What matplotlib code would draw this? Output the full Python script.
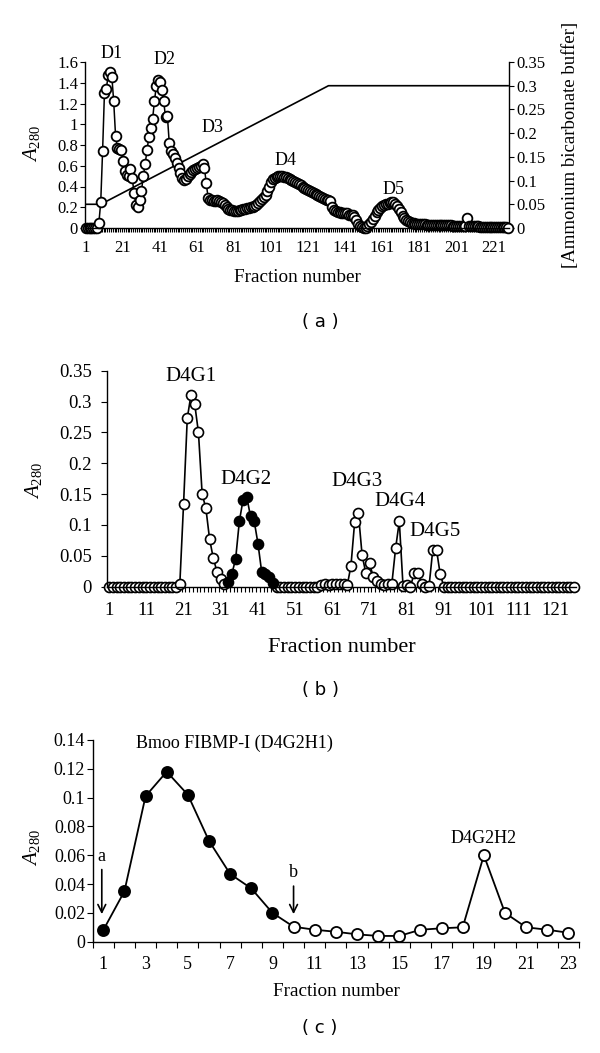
import matplotlib
matplotlib.use("Agg")
import matplotlib.pyplot as plt
import numpy as np
from matplotlib.ticker import FuncFormatter

plt.rcParams['font.family'] = ['Liberation Serif', 'DejaVu Serif']
plt.rcParams['mathtext.fontset'] = 'custom'
plt.rcParams['mathtext.rm'] = 'Liberation Serif'
plt.rcParams['mathtext.it'] = 'Liberation Serif:italic'

# ---- panel (a): gel filtration, 229 fractions ----
a_abs = [
    0, 0, 0, 0, 0, 0, 0, 0.05, 0.25, 0.74,
    1.30, 1.34, 1.47, 1.50, 1.46, 1.22, 0.89, 0.77, 0.76, 0.75,
    0.65, 0.55, 0.51, 0.50, 0.57, 0.48, 0.34, 0.22, 0.20, 0.27,
    0.36, 0.50, 0.62, 0.75, 0.88, 0.96, 1.05, 1.22, 1.37, 1.43,
    1.41, 1.33, 1.22, 1.07, 1.08, 0.82, 0.74, 0.71, 0.67, 0.63,
    0.58, 0.53, 0.48, 0.46, 0.47, 0.50, 0.52, 0.54, 0.56, 0.57,
    0.58, 0.59, 0.60, 0.62, 0.58, 0.43, 0.29, 0.27, 0.27, 0.26,
    0.26, 0.27, 0.26, 0.25, 0.24, 0.22, 0.20, 0.18, 0.17, 0.17,
    0.16, 0.16, 0.16, 0.17, 0.17, 0.18, 0.18, 0.19, 0.19, 0.20,
    0.20, 0.21, 0.22, 0.24, 0.26, 0.28, 0.30, 0.32, 0.36, 0.40,
    0.44, 0.47, 0.48, 0.49, 0.50, 0.50, 0.50, 0.49, 0.49, 0.48,
    0.47, 0.46, 0.45, 0.44, 0.43, 0.42, 0.41, 0.40, 0.39, 0.38,
    0.37, 0.36, 0.35, 0.34, 0.33, 0.32, 0.31, 0.30, 0.29, 0.28,
    0.27, 0.27, 0.26, 0.20, 0.17, 0.16, 0.15, 0.15, 0.14, 0.14,
    0.14, 0.14, 0.13, 0.13, 0.13, 0.11, 0.08, 0.04, 0.02, 0.01,
    0.00, 0.00, 0.02, 0.04, 0.06, 0.09, 0.12, 0.15, 0.17, 0.19,
    0.21, 0.22, 0.23, 0.23, 0.24, 0.25, 0.25, 0.23, 0.21, 0.18,
    0.15, 0.12, 0.10, 0.08, 0.07, 0.06, 0.05, 0.05, 0.04, 0.04,
    0.04, 0.04, 0.035, 0.035, 0.03, 0.03, 0.03, 0.03, 0.03, 0.03,
    0.03, 0.03, 0.025, 0.025, 0.025, 0.025, 0.025, 0.025, 0.02, 0.02,
    0.02, 0.02, 0.02, 0.02, 0.02, 0.02, 0.10, 0.02, 0.02, 0.02,
    0.02, 0.015, 0.015, 0.01, 0.01, 0.01, 0.01, 0.01, 0.01, 0.01,
    0.01, 0.01, 0.005, 0.005, 0.005, 0.005, 0.005, 0.005, 0.0,
]
a_frac = np.arange(1, len(a_abs) + 1)
# ammonium bicarbonate gradient (right axis)
grad_frac = [1, 9, 132, 229]
grad_conc = [0.05, 0.05, 0.30, 0.30]
a_peaks = ['D1', 'D2', 'D3', 'D4', 'D5']
a_peak_pos = [(14.9, 1.68), (43.3, 1.62), (69.6, 0.97), (109, 0.655), (167, 0.375)]

# ---- panel (b): 126 fractions, open series with gap, filled D4G2 ----
nan = np.nan
b_open = [
    0, 0, 0, 0, 0, 0, 0, 0, 0, 0,
    0, 0, 0, 0, 0, 0, 0, 0, 0, 0.005,
    0.134, 0.273, 0.311, 0.296, 0.25, 0.15, 0.127, 0.077, 0.046, 0.024,
    0.013, 0.005, nan, nan, nan, nan, nan, nan, nan, nan,
    nan, nan, nan, nan, nan, 0, 0, 0, 0, 0,
    0, 0, 0, 0, 0, 0, 0, 0.003, 0.004, 0.002,
    0.004, 0.005, 0.005, 0.004, 0.002, 0.034, 0.105, 0.119, 0.051, 0.022,
    0.038, 0.016, 0.009, 0.004, 0.002, 0.004, 0.005, 0.062, 0.106, 0.001,
    0.002, 0, 0.022, 0.022, 0.005, 0, 0.001, 0.06, 0.06, 0.02,
    0, 0, 0, 0, 0, 0, 0, 0, 0, 0,
    0, 0, 0, 0, 0, 0, 0, 0, 0, 0,
    0, 0, 0, 0, 0, 0, 0, 0, 0, 0,
    0, 0, 0, 0, 0, 0,
]
b_frac = np.arange(1, len(b_open) + 1)
b_filled_frac = np.arange(33, 46)
b_filled = [0.007, 0.021, 0.045, 0.106, 0.141, 0.145, 0.114, 0.106, 0.07,
            0.024, 0.021, 0.016, 0.006]
b_peaks = ['D4G1', 'D4G2', 'D4G3', 'D4G4', 'D4G5']
b_peak_pos = [(23, 0.341), (37.7, 0.173), (67.6, 0.170), (79.2, 0.138), (88.6, 0.090)]

# ---- panel (c): 23 fractions ----
c_frac = np.arange(1, 24)
c_filled = [0.008, 0.035, 0.101, 0.118, 0.102, 0.070, 0.047, 0.037, 0.020]
c_open = [0.0104, 0.0083, 0.0069, 0.0051, 0.004, 0.004, 0.0083, 0.0093,
          0.010, 0.060, 0.020, 0.010, 0.0083, 0.0062]


def general(v, pos):
    return f"{v:g}"


W, H = 600, 1053
fig = plt.figure(figsize=(6, 10.53), dpi=100)


def px_axes(left, top, right, bottom):
    return fig.add_axes([left / W, 1 - bottom / H, (right - left) / W, (bottom - top) / H])


def style(ax, n, label_step, yticks, fs, xpad, ypad, xlen, ylen):
    for s in ('top', 'right'):
        ax.spines[s].set_visible(False)
    for s in ('left', 'bottom'):
        ax.spines[s].set_linewidth(1.0)
    ax.set_xlim(0.5, n + 0.5)
    ax.set_xticks(np.arange(1, n + 1, label_step))
    ax.set_xticks(np.arange(0.5, n + 1), minor=True)
    ax.tick_params(axis='x', which='major', length=0, pad=xpad, labelsize=fs)
    ax.tick_params(axis='x', which='minor', length=xlen, width=0.8, direction='out')
    ax.set_yticks(yticks)
    ax.set_ylim(yticks[0], yticks[-1])
    ax.yaxis.set_major_formatter(FuncFormatter(general))
    ax.tick_params(axis='y', length=ylen, width=0.8, pad=ypad, labelsize=fs)


# ================= (a) =================
ax = px_axes(85, 62, 509, 228)
style(ax, len(a_abs), 20, [0, 0.2, 0.4, 0.6, 0.8, 1.0, 1.2, 1.4, 1.6],
      12, 9, 1.5, 3, 3.5)
ax2 = ax.twinx()
ax2.set_ylim(0, 0.35)
ax2.set_yticks([0, 0.05, 0.1, 0.15, 0.2, 0.25, 0.3, 0.35])
ax2.yaxis.set_major_formatter(FuncFormatter(general))
ax2.tick_params(axis='y', length=3.5, width=0.8, pad=2, labelsize=12)
for s in ('top', 'left', 'bottom'):
    ax2.spines[s].set_visible(False)
ax2.spines['right'].set_linewidth(1.0)
ax2.plot(grad_frac, grad_conc, color='black', lw=1.2)
ax.set_zorder(ax2.get_zorder() + 1)
ax.patch.set_visible(False)
ax.plot(a_frac, a_abs, color='black', lw=1.1, marker='o', ms=7,
        mfc='white', mec='black', mew=1.3, clip_on=False)
for name, (x, y) in zip(a_peaks, a_peak_pos):
    ax.text(x, y, name, ha='center', va='center', fontsize=13)
fig.text(31 / W, 1 - 143 / H, r'$A_{280}$', rotation=90, ha='center', va='center', fontsize=15)
fig.text(570 / W, 1 - 145 / H, '[Ammonium bicarbonate buffer]', rotation=90,
         ha='center', va='center', fontsize=13.5)
fig.text(297 / W, 1 - 278 / H, 'Fraction number', ha='center', va='center', fontsize=13.8)
fig.text(320 / W, 1 - 322 / H, '( a )', ha='center', va='center', fontsize=13,
         family='DejaVu Sans')

# ================= (b) =================
bx = px_axes(107.3, 370.7, 576, 586.7)
style(bx, len(b_open), 10, [0, 0.05, 0.1, 0.15, 0.2, 0.25, 0.3, 0.35],
      13.5, 11, 7, 3.5, 4)
bx.plot(b_frac, b_open, color='black', lw=1.2, marker='o', ms=7.2,
        mfc='white', mec='black', mew=1.2, clip_on=False)
bx.plot(b_filled_frac, b_filled, color='black', lw=1.2, marker='o', ms=7.2,
        mfc='black', mec='black', mew=1.2, clip_on=False)
for name, (x, y) in zip(b_peaks, b_peak_pos):
    bx.text(x, y, name, ha='center', va='center', fontsize=15)
fig.text(33 / W, 1 - 480 / H, r'$A_{280}$', rotation=90, ha='center', va='center', fontsize=15)
fig.text(342 / W, 1 - 647 / H, 'Fraction number', ha='center', va='center', fontsize=16)
fig.text(320 / W, 1 - 690 / H, '( b )', ha='center', va='center', fontsize=13,
         family='DejaVu Sans')

# ================= (c) =================
cx = px_axes(92.7, 740, 579, 941.7)
style(cx, len(c_frac), 2, [0, 0.02, 0.04, 0.06, 0.08, 0.1, 0.12, 0.14],
      13, 10, 1.5, 4, 4)
cx.plot(c_frac, c_filled + c_open, color='black', lw=1.3, clip_on=False)
cx.plot(c_frac[:len(c_filled)], c_filled, ls='none', marker='o', ms=8,
        mfc='black', mec='black', mew=1.3, clip_on=False)
cx.plot(c_frac[len(c_filled):], c_open, ls='none', marker='o', ms=8,
        mfc='white', mec='black', mew=1.3, clip_on=False)
cx.text(7.2, 0.138, 'Bmoo FIBMP-I (D4G2H1)', ha='center', va='center', fontsize=13)
cx.text(19.0, 0.0718, 'D4G2H2', ha='center', va='center', fontsize=13)
cx.annotate('', xy=(0.93, 0.0172), xytext=(0.93, 0.052),
            arrowprops=dict(arrowstyle='->', lw=1.2, color='black', mutation_scale=14))
cx.text(0.93, 0.059, 'a', ha='center', va='center', fontsize=13)
cx.annotate('', xy=(10, 0.0172), xytext=(10, 0.0405),
            arrowprops=dict(arrowstyle='->', lw=1.2, color='black', mutation_scale=14))
cx.text(10, 0.048, 'b', ha='center', va='center', fontsize=13)
fig.text(32 / W, 1 - 847 / H, r'$A_{280}$', rotation=90, ha='center', va='center', fontsize=15)
fig.text(336 / W, 1 - 992 / H, 'Fraction number', ha='center', va='center', fontsize=13.8)
fig.text(320 / W, 1 - 1028 / H, '( c )', ha='center', va='center', fontsize=13,
         family='DejaVu Sans')

fig.savefig('out.png', dpi=100)
